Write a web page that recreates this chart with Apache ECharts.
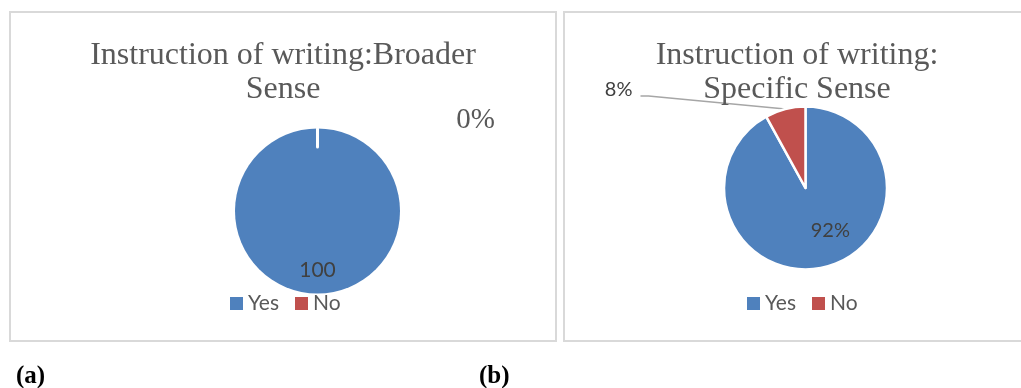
<!DOCTYPE html>
<html>
<head>
<meta charset="utf-8">
<script src="https://cdn.jsdelivr.net/npm/echarts@6/dist/echarts.min.js"></script>
<style>
  html, body { margin: 0; padding: 0; background: #ffffff; }
  #chart { width: 1021px; height: 388px; }
</style>
</head>
<body>
<div id="chart"></div>
<script>
// Survey answers for the two writing-instruction questions
const categories = ['Yes', 'No'];
const broaderValues = [100, 0];
const specificValues = [92, 8];
const broaderTitle = 'Instruction of writing:Broader\nSense';
const specificTitle = 'Instruction of writing:\nSpecific Sense';
const panelTags = ['(a)', '(b)'];

const BLUE = '#4f81bd';
const RED = '#c0504d';
const SERIF = '"Liberation Serif", "Times New Roman", serif';
const SANS = 'Lato, "Noto Sans", sans-serif';

const chart = echarts.init(document.getElementById('chart'));

const leftCenter = [317.5, 211];
const rightCenter = [805.5, 188];

function titleBlock(text, x) {
  return {
    text: text,
    left: x,
    top: 39,
    textAlign: 'center',
    padding: 0,
    textStyle: {
      fontFamily: SERIF,
      fontSize: 32,
      fontWeight: 'normal',
      lineHeight: 34,
      color: '#595959'
    }
  };
}

function tagBlock(text, x) {
  return {
    text: text,
    left: x,
    top: 363,
    padding: 0,
    textStyle: {
      fontFamily: SERIF,
      fontSize: 25,
      fontWeight: 'bold',
      lineHeight: 28,
      color: '#000000'
    }
  };
}

function legendBlock(x) {
  return {
    data: categories,
    left: x,
    top: 293,
    padding: 0,
    itemWidth: 13,
    itemHeight: 13,
    itemGap: 16,
    icon: 'rect',
    selectedMode: false,
    textStyle: {
      fontFamily: SANS,
      fontSize: 21,
      lineHeight: 20,
      color: '#595959'
    }
  };
}

const dataLabelStyle = {
  fontFamily: SANS,
  fontSize: 20,
  color: '#404040'
};

const colors = [BLUE, RED];

const broaderData = categories.map((name, i) => ({
  name: name,
  value: broaderValues[i],
  itemStyle: { color: colors[i] }
}));
// value label for the main slice, percentage label for the empty one
broaderData[0].label = { show: true, position: 'inside', formatter: '{c}', offset: [0, 15], ...dataLabelStyle, fontSize: 21 };
broaderData[1].label = {
  show: true, position: 'outside', formatter: '{d}%',
  fontFamily: SERIF, fontSize: 29, color: '#595959'
};
broaderData[1].labelLine = { show: false };

// thin white seam where the empty slice sits on the rim
const seamData = categories.map((name, i) => ({
  name: name,
  value: broaderValues[i],
  itemStyle: i === 1
    ? { color: '#ffffff', borderColor: '#ffffff', borderWidth: 3 }
    : { color: 'rgba(0,0,0,0)', borderWidth: 0 }
}));

const specificData = categories.map((name, i) => ({
  name: name,
  value: specificValues[i],
  itemStyle: { color: colors[i] }
}));
specificData[0].label = { show: true, position: 'inside', formatter: '{d}%', offset: [14, 0], ...dataLabelStyle };
specificData[1].label = { show: true, position: 'outside', formatter: '{d}%', ...dataLabelStyle };
specificData[1].labelLine = { show: true, lineStyle: { color: '#a6a6a6', width: 1.5 } };

chart.setOption({
  animation: false,
  title: [
    titleBlock(broaderTitle, 283),
    titleBlock(specificTitle, 797),
    tagBlock(panelTags[0], 16),
    tagBlock(panelTags[1], 479)
  ],
  legend: [legendBlock(230), legendBlock(747)],
  graphic: [
    {
      type: 'rect', silent: true, z: -10,
      shape: { x: 10, y: 12, width: 546, height: 329 },
      style: { fill: 'none', stroke: '#d9d9d9', lineWidth: 2 }
    },
    {
      type: 'rect', silent: true, z: -10,
      shape: { x: 564, y: 12, width: 470, height: 329 },
      style: { fill: 'none', stroke: '#d9d9d9', lineWidth: 2 }
    }
  ],
  series: [
    {
      name: 'Broader Sense',
      type: 'pie',
      center: leftCenter,
      radius: 82.5,
      startAngle: 90,
      clockwise: true,
      avoidLabelOverlap: false,
      silent: true,
      itemStyle: { borderColor: '#ffffff', borderWidth: 0 },
      label: { show: true },
      data: broaderData,
      labelLayout: function (params) {
        if (params.dataIndex === 1) {
          return { x: leftCenter[0] + 158, y: leftCenter[1] - 91, align: 'center', verticalAlign: 'middle' };
        }
        return {};
      }
    },
    {
      name: 'Broader Sense seam',
      type: 'pie',
      center: leftCenter,
      radius: [64, 82.5],
      startAngle: 90,
      clockwise: true,
      silent: true,
      legendHoverLink: false,
      label: { show: false },
      labelLine: { show: false },
      data: seamData
    },
    {
      name: 'Specific Sense',
      type: 'pie',
      center: rightCenter,
      radius: 81.5,
      startAngle: 90,
      clockwise: true,
      avoidLabelOverlap: false,
      silent: true,
      itemStyle: { borderColor: '#ffffff', borderWidth: 2.5 },
      data: specificData,
      labelLayout: function (params) {
        if (params.dataIndex === 1) {
          const pts = params.labelLinePoints;
          const lx = rightCenter[0] - 173;
          const ly = rightCenter[1] - 98;
          const start = pts ? pts[0] : [rightCenter[0] - 20, rightCenter[1] - 79];
          return {
            x: lx, y: ly, align: 'right', verticalAlign: 'middle',
            labelLinePoints: [start, [lx + 16, ly + 6], [lx + 8, ly + 6]]
          };
        }
        return {};
      }
    }
  ]
});
</script>
</body>
</html>
